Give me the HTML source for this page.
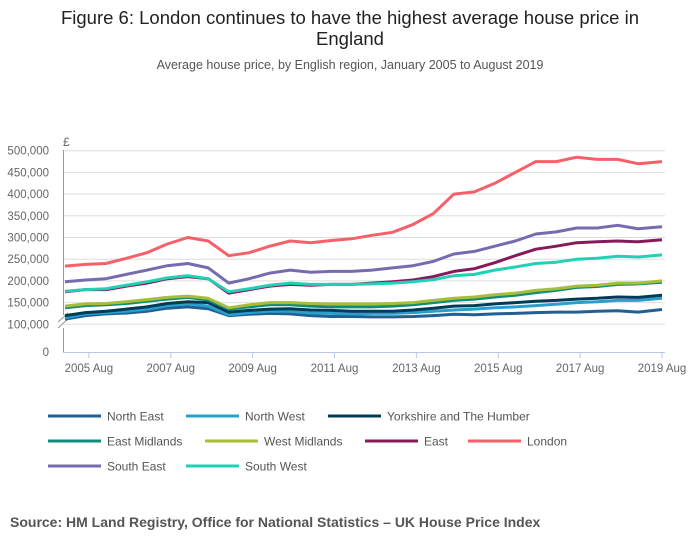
<!DOCTYPE html>
<html><head><meta charset="utf-8"><style>
body{margin:0;background:#fff;font-family:"Liberation Sans",sans-serif;}
#wrap{position:relative;width:700px;height:549px;overflow:hidden;}
</style></head><body>
<div id="wrap">
<svg id="svg" width="700" height="549" xmlns="http://www.w3.org/2000/svg">
<text x="350" y="24" text-anchor="middle" font-size="18.5" fill="#222">Figure 6: London continues to have the highest average house price in</text>
<text x="350" y="45" text-anchor="middle" font-size="18.5" fill="#222">England</text>
<text x="350" y="69" text-anchor="middle" font-size="12.5" fill="#555">Average house price, by English region, January 2005 to August 2019</text>
<text x="63" y="146" font-size="12" fill="#666">£</text>
<g id="grid"></g><g id="axes"></g><g id="series"></g><g id="legend"></g>
<text x="10" y="527" font-size="14" font-weight="bold" fill="#555">Source: HM Land Registry, Office for National Statistics – UK House Price Index</text>
</svg>
</div>
<script>
const months=[0,6,12,18,24,30,36,42,48,54,60,66,72,78,84,90,96,102,108,114,120,126,132,138,144,150,156,162,168,175];
const seriesNames=["North East","North West","Yorkshire and The Humber","East Midlands","West Midlands","East","London","South East","South West"];
const seriesColors=["#206095","#27a0cc","#003c57","#118c7b","#a8bd3a","#871a5b","#f66068","#746cb1","#22d0b6"];
const northEast=[112,120,124,126,130,137,140,136,120,123,125,124,120,118,118,117,117,118,120,123,122,124,125,127,128,128,130,131,128,134];
const northWest=[115,124,127,130,135,143,147,142,122,127,130,130,126,125,124,125,125,127,130,133,135,138,140,143,146,150,152,155,155,160];
const yorkshire=[120,127,130,135,140,148,152,150,128,132,135,136,133,132,130,130,130,133,137,142,143,147,150,153,155,158,160,163,162,167];
const eastMidlands=[138,143,145,148,153,158,162,156,135,140,145,145,142,140,140,140,142,145,150,155,158,163,167,173,178,185,187,192,193,197];
const westMidlands=[142,147,148,152,157,162,165,160,138,145,150,150,148,147,147,147,148,150,155,160,163,168,172,178,182,188,190,195,195,200];
const east=[175,180,180,188,195,205,210,205,172,180,188,192,190,192,192,195,198,202,210,222,228,242,258,273,280,288,290,292,290,295];
const london=[234,238,240,252,265,285,300,292,258,265,280,292,288,293,297,305,312,330,355,400,405,425,450,475,475,485,480,480,470,475];
const southEast=[198,202,205,215,225,235,240,230,195,205,218,225,220,222,222,225,230,235,245,262,268,280,292,308,313,322,322,328,320,325];
const southWest=[176,180,182,190,198,207,212,205,175,182,190,195,192,192,192,193,195,198,203,212,215,225,232,240,243,250,252,257,255,260];
const yTicks=[100,150,200,250,300,350,400,450,500];
const yTickLabels=["100,000","150,000","200,000","250,000","300,000","350,000","400,000","450,000","500,000"];
const xTickMonths=[7,31,55,79,103,127,151,175];
const xTickLabels=["2005 Aug","2007 Aug","2009 Aug","2011 Aug","2013 Aug","2015 Aug","2017 Aug","2019 Aug"];
const allSeries=[northEast,northWest,yorkshire,eastMidlands,westMidlands,east,london,southEast,southWest];

const NS="http://www.w3.org/2000/svg";
function xS(m){return 65+m*(662-65)/175;}
function yS(v){return 324.3-(v-100)*0.434;}
function mk(tag,attrs,parent){const e=document.createElementNS(NS,tag);for(const k in attrs)e.setAttribute(k,attrs[k]);parent.appendChild(e);return e;}
const grid=document.getElementById('grid'),axes=document.getElementById('axes'),ser=document.getElementById('series'),leg=document.getElementById('legend');
yTicks.forEach((v,i)=>{
  const l=mk('line',{x1:63,x2:665,y1:yS(v),y2:yS(v),stroke:'#ddd','stroke-width':1},grid);
  
  
  const t=mk('text',{x:49,y:yS(v)+4,'text-anchor':'end','font-size':11.5,fill:'#666'},axes);
  t.textContent=yTickLabels[i];
  
  
});
const z=mk('text',{x:49,y:356,'text-anchor':'end','font-size':11.5,fill:'#666'},axes);z.textContent="0";


const ya=mk('path',{d:'M63.5 150 V315 M63.5 328 V352',stroke:'#999',fill:'none'},axes);


const br=mk('path',{d:'M58 322 L68 313 M58 328 L68 319',stroke:'#999',fill:'none'},axes);


const xa=mk('line',{x1:63,x2:665,y1:352.5,y2:352.5,stroke:'#b8c8e0'},axes);


xTickMonths.forEach((m,i)=>{
  const tk=mk('line',{x1:xS(m),x2:xS(m),y1:352,y2:358,stroke:'#b8c8e0'},axes);
  
  
  const t=mk('text',{x:xS(m),y:372,'text-anchor':'middle','font-size':11.5,fill:'#666'},axes);
  t.textContent=xTickLabels[i];
  
  
});
allSeries.forEach((vals,i)=>{
  const d=vals.map((v,j)=>(j?'L':'M')+xS(months[j]).toFixed(1)+' '+yS(v).toFixed(1)).join(' ');
  const p=mk('path',{d:d,fill:'none',stroke:seriesColors[i],'stroke-width':3,'stroke-linejoin':'round'},ser);
  
  
});
const legPos=[[48,416],[186,416],[328,416],[48,441],[205,441],[365,441],[468,441],[48,466],[186,466]];
seriesNames.forEach((n,i)=>{
  const [x,y]=legPos[i];
  const g=mk('g',{},leg);
  
  
  mk('line',{x1:x,x2:x+53,y1:y,y2:y,stroke:seriesColors[i],'stroke-width':3},g);
  const t=mk('text',{x:x+59,y:y+4.5,'font-size':12,fill:'#555'},g);
  t.textContent=n;
});
</script>
</body></html>
